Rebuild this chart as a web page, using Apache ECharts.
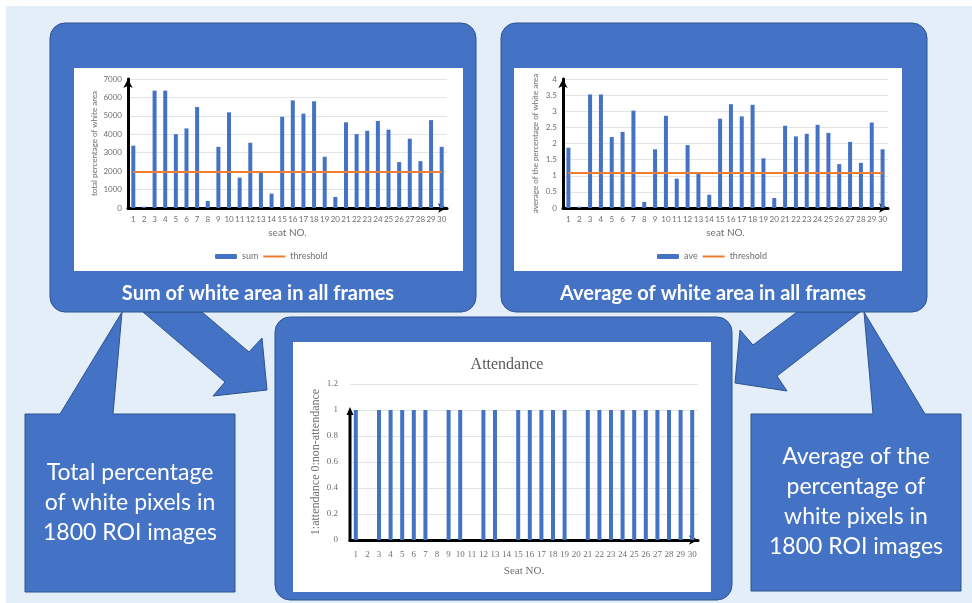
<!DOCTYPE html>
<html>
<head>
<meta charset="utf-8">
<script src="https://cdn.jsdelivr.net/npm/echarts@6/dist/echarts.min.js"></script>
<style>
  html, body { margin: 0; padding: 0; background: #ffffff; }
  #c { width: 972px; height: 603px; }
</style>
</head>
<body>
<div id="c"></div>
<script>
// Seat numbers (category labels shared by all three charts)
const seats = ['1','2','3','4','5','6','7','8','9','10','11','12','13','14','15',
               '16','17','18','19','20','21','22','23','24','25','26','27','28','29','30'];

// Total percentage of white pixels over all 1800 ROI frames, per seat
const sumWhite = [3380, 70, 6370, 6370, 4010, 4320, 5480, 380, 3320, 5190,
                  1650, 3540, 1960, 780, 4950, 5840, 5120, 5790, 2780, 600,
                  4650, 4010, 4190, 4720, 4250, 2490, 3760, 2540, 4770, 3320];
const sumThreshold = 1950;

// Average percentage of white pixels per frame, per seat
const aveWhite = [1.87, 0.04, 3.52, 3.52, 2.20, 2.36, 3.02, 0.19, 1.82, 2.86,
                  0.91, 1.95, 1.07, 0.41, 2.77, 3.22, 2.84, 3.20, 1.54, 0.31,
                  2.55, 2.22, 2.30, 2.58, 2.33, 1.36, 2.05, 1.40, 2.65, 1.82];
const aveThreshold = 1.085;

// 1 = attendance, 0 = non-attendance
const attendance = [1, 0, 1, 1, 1, 1, 1, 0, 1, 1,
                    0, 1, 1, 0, 1, 1, 1, 1, 1, 0,
                    1, 1, 1, 1, 1, 1, 1, 1, 1, 1];

// Panel and caption text
const panelTitles = ['Sum of white area in all frames', 'Average of white area in all frames'];
const leftNote = ['Total percentage', 'of white pixels in', '1800 ROI images'];
const rightNote = ['Average of the', 'percentage of', 'white pixels in', '1800 ROI images'];

const BLUE = '#4472c4';
const EDGE = '#2f528f';
const ORANGE = '#ed7d31';
const GREY = '#6f6f6f';
const SANS = 'Lato, "Open Sans", sans-serif';
const SERIF = '"Liberation Serif", "DejaVu Serif", serif';

// Layout of the three plot areas
const G1 = { left: 128, top: 79, width: 319, height: 129 };
const G2 = { left: 563, top: 79, width: 325, height: 129 };
const G3 = { left: 350, top: 384, width: 348, height: 156 };

const chart = echarts.init(document.getElementById('c'), null, { renderer: 'canvas' });

const shapeStyle = { fill: BLUE, stroke: EDGE, lineWidth: 1 };

function noteLines(lines, cx, y0, step) {
  return lines.map((t, i) => ({
    type: 'text', z: -4,
    style: { text: t, x: cx, y: y0 + i * step, fill: '#ffffff', font: '23px ' + SANS,
             textAlign: 'center', textVerticalAlign: 'middle' }
  }));
}

const decor = [
  { type: 'rect', z: -10, shape: { x: 6, y: 6, width: 966, height: 597 }, style: { fill: '#e3eef8' } },
  // arrows from the two upper panels into the attendance panel
  { type: 'polygon', z: -9, shape: { points: [[143,312],[202,312],[249,352],[262,338],[267,390],[213,396],[225,382]] }, style: shapeStyle },
  { type: 'polygon', z: -9, shape: { points: [[797,312],[860,312],[777,376],[787,391],[735,383],[740,330],[753,345]] }, style: shapeStyle },
  // callout notes
  { type: 'polygon', z: -9, shape: { points: [[25,414],[60,414],[122,312],[113,414],[235,414],[235,592],[25,592]] }, style: shapeStyle },
  { type: 'polygon', z: -9, shape: { points: [[751,414],[873,414],[864,312],[925,414],[961,414],[961,591],[751,591]] }, style: shapeStyle },
  // rounded panels
  { type: 'rect', z: -8, shape: { x: 50, y: 23, width: 426, height: 289, r: 15 }, style: shapeStyle },
  { type: 'rect', z: -8, shape: { x: 501, y: 23, width: 426, height: 289, r: 15 }, style: shapeStyle },
  { type: 'rect', z: -8, shape: { x: 275, y: 317, width: 457, height: 283, r: 15 }, style: shapeStyle },
  // white chart cards
  { type: 'rect', z: -7, shape: { x: 74, y: 68, width: 389, height: 203 }, style: { fill: '#ffffff' } },
  { type: 'rect', z: -7, shape: { x: 514, y: 68, width: 388, height: 203 }, style: { fill: '#ffffff' } },
  { type: 'rect', z: -7, shape: { x: 293, y: 342, width: 418, height: 250 }, style: { fill: '#ffffff' } },
  // panel captions
  { type: 'text', z: -4, style: { text: panelTitles[0], x: 258, y: 294, fill: '#ffffff',
      font: 'bold 20px ' + SANS, textAlign: 'center', textVerticalAlign: 'middle' } },
  { type: 'text', z: -4, style: { text: panelTitles[1], x: 713, y: 294, fill: '#ffffff',
      font: 'bold 20px ' + SANS, textAlign: 'center', textVerticalAlign: 'middle' } }
].concat(noteLines(leftNote, 130, 473, 30), noteLines(rightNote, 856, 457, 30));

function catAxis(gridIndex, name, serif, gap, margin) {
  return {
    type: 'category', gridIndex: gridIndex, data: seats, boundaryGap: true,
    name: name, nameLocation: 'middle', nameGap: gap,
    nameTextStyle: { color: GREY, fontSize: serif ? 11 : 10, fontFamily: serif ? SERIF : SANS },
    axisLine: { show: true, symbol: ['none', 'arrow'], symbolSize: [7, 9],
                lineStyle: { color: '#000000', width: 3 } },
    axisTick: { show: false },
    axisLabel: { color: GREY, fontSize: serif ? 9 : 8, margin: margin, interval: 0,
                 fontFamily: serif ? SERIF : SANS }
  };
}

function valAxis(gridIndex, name, max, interval, serif, gap, margin, showLine) {
  return {
    type: 'value', gridIndex: gridIndex, min: 0, max: max, interval: interval,
    name: name, nameLocation: 'middle', nameGap: gap,
    nameTextStyle: { color: GREY, fontSize: serif ? 12 : 8, fontFamily: serif ? SERIF : SANS },
    axisLine: { show: showLine, symbol: ['none', 'arrow'], symbolSize: [7, 9],
                lineStyle: { color: '#000000', width: 3 } },
    axisTick: { show: false },
    axisLabel: { color: GREY, fontSize: serif ? 9 : 8, margin: margin,
                 fontFamily: serif ? SERIF : SANS, formatter: (v) => String(v) },
    splitLine: { show: true, lineStyle: { color: '#e4e4e4', width: 1 } }
  };
}

const legendText = { color: GREY, fontSize: 9, fontFamily: SANS };
const thresholdItem = { name: 'threshold', itemStyle: { opacity: 0 } };

const option = {
  animation: false,
  backgroundColor: '#ffffff',
  title: [{
    text: 'Attendance', left: 502, top: 352, textAlign: 'center',
    textStyle: { fontFamily: SERIF, fontSize: 16, fontWeight: 'normal', color: '#595959' }
  }],
  legend: [
    { data: ['sum', thresholdItem], left: 215, top: 252, padding: 0, itemGap: 4,
      itemWidth: 22, itemHeight: 5, textStyle: legendText },
    { data: ['ave', thresholdItem], left: 657, top: 252, padding: 0, itemGap: 4,
      itemWidth: 22, itemHeight: 5, textStyle: legendText }
  ],
  grid: [
    Object.assign({ containLabel: false }, G1),
    Object.assign({ containLabel: false }, G2),
    Object.assign({ containLabel: false }, G3)
  ],
  xAxis: [
    catAxis(0, 'seat NO.', false, 20, 7),
    catAxis(1, 'seat NO.', false, 20, 7),
    catAxis(2, 'Seat NO.', true, 26, 10)
  ],
  yAxis: [
    valAxis(0, 'total percentage of white area', 7000, 1000, false, 30, 6, true),
    valAxis(1, 'average of the percentage of white area', 4, 0.5, false, 24, 6, true),
    valAxis(2, '1:attendance 0:non-attendance', 1.2, 0.2, true, 28, 12, false)
  ],
  series: [
    { name: 'sum', type: 'bar', xAxisIndex: 0, yAxisIndex: 0, data: sumWhite,
      barWidth: 4, itemStyle: { color: BLUE } },
    { name: 'threshold', type: 'line', xAxisIndex: 0, yAxisIndex: 0,
      data: [[seats[0], sumThreshold], [seats[seats.length - 1], sumThreshold]],
      symbol: 'none', lineStyle: { color: ORANGE, width: 2 }, itemStyle: { color: ORANGE } },
    { name: 'ave', type: 'bar', xAxisIndex: 1, yAxisIndex: 1, data: aveWhite,
      barWidth: 4, itemStyle: { color: BLUE } },
    { name: 'threshold', type: 'line', xAxisIndex: 1, yAxisIndex: 1,
      data: [[seats[0], aveThreshold], [seats[seats.length - 1], aveThreshold]],
      symbol: 'none', lineStyle: { color: ORANGE, width: 2 }, itemStyle: { color: ORANGE } },
    { name: 'attendance', type: 'bar', xAxisIndex: 2, yAxisIndex: 2, data: attendance,
      barWidth: 4, itemStyle: { color: BLUE } }
  ],
  graphic: decor
};

chart.setOption(option);

// Attendance y axis: a black arrow rising from 0 up to the "attended" level
const yZero = chart.convertToPixel({ yAxisIndex: 2 }, 0);
const yOne = chart.convertToPixel({ yAxisIndex: 2 }, 1);
const ax = G3.left;
const overlay = [
  { type: 'line', z: 20, shape: { x1: ax, y1: yZero + 1.5, x2: ax, y2: yOne + 4 },
    style: { stroke: '#000000', lineWidth: 3 } },
  { type: 'polygon', z: 20, shape: { points: [[ax - 3.5, yOne + 5], [ax + 3.5, yOne + 5], [ax, yOne - 3]] },
    style: { fill: '#000000' } }
];
chart.setOption({ graphic: decor.concat(overlay) });
</script>
</body>
</html>
